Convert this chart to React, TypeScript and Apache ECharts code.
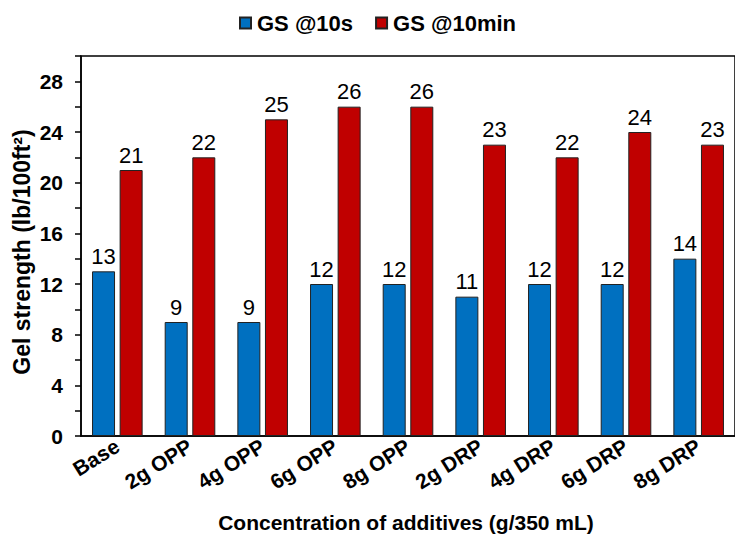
import React, { useEffect, useRef } from "react";
import * as echarts from "echarts";

const categories = ["Base", "2g OPP", "4g OPP", "6g OPP", "8g OPP", "2g DRP", "4g DRP", "6g DRP", "8g DRP"];
const gs10s = [13, 9, 9, 12, 12, 11, 12, 12, 14];
const gs10min = [21, 22, 25, 26, 26, 23, 22, 24, 23];
const seriesNames = ["GS @10s", "GS @10min"];
const yTitle = "Gel strength (lb/100ft²)";
const xTitle = "Concentration of additives (g/350 mL)";

const FONT = "Arial, 'Liberation Sans', sans-serif";

export default function App() {
  const ref = useRef<HTMLDivElement>(null);
  useEffect(() => {
    if (!ref.current) return;
    const chart = echarts.init(ref.current, null, { renderer: "svg" });
    const labelStyle = {
      show: true,
      position: "top",
      distance: 4,
      color: "#000",
      fontSize: 22,
      fontFamily: FONT,
      fontWeight: "normal",
    };
    chart.setOption({
      animation: false,
      backgroundColor: "#fff",
      textStyle: { fontFamily: FONT },
      legend: {
        left: 234,
        top: 7,
        itemWidth: 11,
        itemHeight: 11,
        itemGap: 22,
        icon: "rect",
        textStyle: { fontSize: 22, fontWeight: "bold", color: "#000", fontFamily: FONT, padding: [0, 0, 0, 1] },
        data: seriesNames,
      },
      grid: {
        left: 81,
        top: 56,
        width: 666,
        height: 380,
        show: true,
        borderColor: "#000",
        borderWidth: 1.5,
        containLabel: false,
      },
      xAxis: {
        type: "category",
        data: categories,
        boundaryGap: true,
        axisLine: { lineStyle: { color: "#000", width: 1.5 } },
        axisTick: { alignWithLabel: true, length: 5, lineStyle: { color: "#000", width: 1.5 } },
        axisLabel: {
          rotate: 32,
          interval: 0,
          margin: 8,
          fontSize: 21,
          fontWeight: "bold",
          color: "#000",
          fontFamily: FONT,
        },
      },
      yAxis: {
        type: "value",
        min: 0,
        max: 30,
        interval: 2,
        splitLine: { show: false },
        axisLine: { show: true, lineStyle: { color: "#000", width: 1.5 } },
        axisTick: { show: true, length: 6, lineStyle: { color: "#000", width: 1.5 } },
        axisLabel: {
          fontSize: 21,
          fontWeight: "bold",
          color: "#000",
          fontFamily: FONT,
          margin: 18,
          formatter: (v: number) => (v % 4 === 0 && v <= 28 ? String(v) : ""),
        },
      },
      series: [
        {
          name: seriesNames[0],
          type: "bar",
          data: gs10s,
          barWidth: 23,
          barGap: "20%",
          itemStyle: { color: "#0070C0", borderColor: "#222", borderWidth: 1 },
          label: labelStyle,
        },
        {
          name: seriesNames[1],
          type: "bar",
          data: gs10min,
          barWidth: 23,
          barGap: "20%",
          itemStyle: { color: "#C00000", borderColor: "#222", borderWidth: 1 },
          label: labelStyle,
        },
      ],
      graphic: [
        {
          type: "text",
          x: 406,
          y: 522,
          style: {
            text: xTitle,
            fontSize: 21,
            fontWeight: "bold",
            fontFamily: FONT,
            fill: "#000",
            textAlign: "center",
            textVerticalAlign: "middle",
          },
        },
        {
          type: "text",
          x: 22,
          y: 252,
          rotation: Math.PI / 2,
          style: {
            text: yTitle,
            fontSize: 23,
            fontWeight: "bold",
            fontFamily: FONT,
            fill: "#000",
            textAlign: "center",
            textVerticalAlign: "middle",
          },
        },
      ],
    });
    return () => chart.dispose();
  }, []);
  return <div ref={ref} style={{ width: 735, height: 542, position: "absolute", left: 0, top: 0 }} />;
}
